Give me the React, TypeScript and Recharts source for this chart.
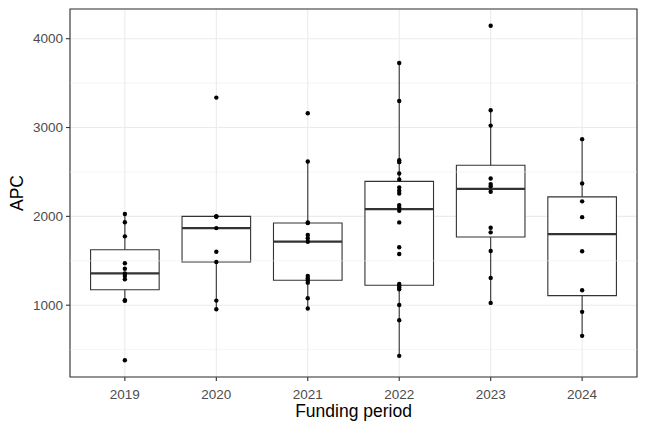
import React from 'react';
import {
  ComposedChart,
  Scatter,
  XAxis,
  YAxis,
  CartesianGrid,
  ReferenceArea,
  ReferenceLine,
} from 'recharts';

// Funding periods shown along the x axis
const periods = ['2019', '2020', '2021', '2022', '2023', '2024'];

// Article processing charges per funded publication, by period
const apc2019 = [380, 1050, 1055, 1292, 1330, 1358, 1410, 1472, 1775, 1933, 2026];
const apc2020 = [955, 1052, 1487, 1602, 1868, 1996, 2000, 2000, 3337];
const apc2021 = [962, 1079, 1254, 1280, 1303, 1329, 1715, 1753, 1790, 1925, 1932, 2618, 3161];
const apc2022 = [
  430, 831, 1003, 1180, 1200, 1220, 1240, 1576, 1652, 1932, 2062, 2101, 2127, 2258, 2288,
  2326, 2416, 2483, 2610, 2633, 3299, 3726,
];
const apc2023 = [1026, 1307, 1610, 1820, 1872, 2277, 2340, 2363, 2427, 3022, 3194, 4146];
const apc2024 = [655, 925, 1169, 1607, 1991, 2169, 2371, 2869];

const apcByPeriod = [apc2019, apc2020, apc2021, apc2022, apc2023, apc2024];

const majorTicks = [1000, 2000, 3000, 4000];
const minorTicks = [500, 1500, 2500, 3500];

const FONT = '"Liberation Sans", Arial, Helvetica, sans-serif';
const INK = '#333333';
const GRID = '#EBEBEB';
const HALF_BOX = 0.375;

// quantile with linear interpolation between order statistics
function quantile(sorted: number[], p: number): number {
  const h = (sorted.length - 1) * p;
  const lo = Math.floor(h);
  const hi = Math.ceil(h);
  return sorted[lo] + (h - lo) * (sorted[hi] - sorted[lo]);
}

const boxStats = apcByPeriod.map((vals, i) => {
  const s = [...vals].sort((a, b) => a - b);
  const q1 = quantile(s, 0.25);
  const med = quantile(s, 0.5);
  const q3 = quantile(s, 0.75);
  const iqr = q3 - q1;
  const lo = s.find((v) => v >= q1 - 1.5 * iqr) as number;
  const hi = [...s].reverse().find((v) => v <= q3 + 1.5 * iqr) as number;
  return { x: i + 1, q1, med, q3, lo, hi };
});

const points = apcByPeriod.flatMap((vals, i) => vals.map((v) => ({ x: i + 1, y: v })));

const allValues = points.map((p) => p.y);
const yMin = Math.min(...allValues);
const yMax = Math.max(...allValues);
const yPad = (yMax - yMin) * 0.05;
const yDomain: [number, number] = [yMin - yPad, yMax + yPad];
const xDomain: [number, number] = [0.4, periods.length + 0.6];
const xTicks = periods.map((_, i) => i + 1);

const PointDot = (props: any) => <circle cx={props.cx} cy={props.cy} r={2.2} fill="#000" />;

export default function App() {
  return (
    <div style={{ position: 'absolute', left: 0, top: 0, background: '#fff' }}>
      <ComposedChart
        width={648}
        height={432}
        margin={{ top: 9, right: 11, bottom: 15, left: 0 }}
        style={{ fontFamily: FONT }}
      >
        <CartesianGrid stroke={GRID} strokeWidth={1.1} />
        {minorTicks.map((v) => (
          <ReferenceLine key={`minor-${v}`} y={v} stroke={GRID} strokeWidth={0.55} />
        ))}
        <XAxis
          type="number"
          dataKey="x"
          domain={xDomain}
          ticks={xTicks}
          allowDataOverflow
          tickFormatter={(v: number) => periods[v - 1]}
          height={40}
          tickSize={4}
          tickMargin={8}
          axisLine={false}
          tickLine={{ stroke: INK, strokeWidth: 1.1 }}
          tick={{ fill: '#4D4D4D', fontSize: 13.5, fontFamily: FONT }}
          label={{
            value: 'Funding period',
            position: 'insideBottom',
            offset: 0,
            fill: '#000',
            fontSize: 17.5,
            fontFamily: FONT,
          }}
        />
        <YAxis
          type="number"
          dataKey="y"
          domain={yDomain}
          ticks={majorTicks}
          allowDataOverflow
          width={70}
          tickSize={4}
          tickMargin={3}
          axisLine={false}
          tickLine={{ stroke: INK, strokeWidth: 1.1 }}
          tick={{ fill: '#4D4D4D', fontSize: 13.5, fontFamily: FONT }}
          label={{
            value: 'APC',
            angle: -90,
            position: 'insideLeft',
            offset: 17,
            fill: '#000',
            fontSize: 17.5,
            fontFamily: FONT,
            style: { textAnchor: 'middle' },
          }}
        />
        {boxStats.map((b) => (
          <ReferenceLine
            key={`wu-${b.x}`}
            segment={[
              { x: b.x, y: b.q3 },
              { x: b.x, y: b.hi },
            ]}
            stroke={INK}
            strokeWidth={1.1}
          />
        ))}
        {boxStats.map((b) => (
          <ReferenceLine
            key={`wl-${b.x}`}
            segment={[
              { x: b.x, y: b.q1 },
              { x: b.x, y: b.lo },
            ]}
            stroke={INK}
            strokeWidth={1.1}
          />
        ))}
        {boxStats.map((b) => (
          <ReferenceArea
            key={`box-${b.x}`}
            x1={b.x - HALF_BOX}
            x2={b.x + HALF_BOX}
            y1={b.q1}
            y2={b.q3}
            fill="#fff"
            fillOpacity={1}
            stroke={INK}
            strokeWidth={1.1}
          />
        ))}
        {boxStats.map((b) => (
          <ReferenceLine
            key={`med-${b.x}`}
            segment={[
              { x: b.x - HALF_BOX, y: b.med },
              { x: b.x + HALF_BOX, y: b.med },
            ]}
            stroke={INK}
            strokeWidth={2.2}
          />
        ))}
        <Scatter data={points} shape={PointDot} isAnimationActive={false} />
        <ReferenceArea
          x1={xDomain[0]}
          x2={xDomain[1]}
          y1={yDomain[0]}
          y2={yDomain[1]}
          fill="none"
          stroke={INK}
          strokeWidth={1.1}
        />
      </ComposedChart>
    </div>
  );
}
